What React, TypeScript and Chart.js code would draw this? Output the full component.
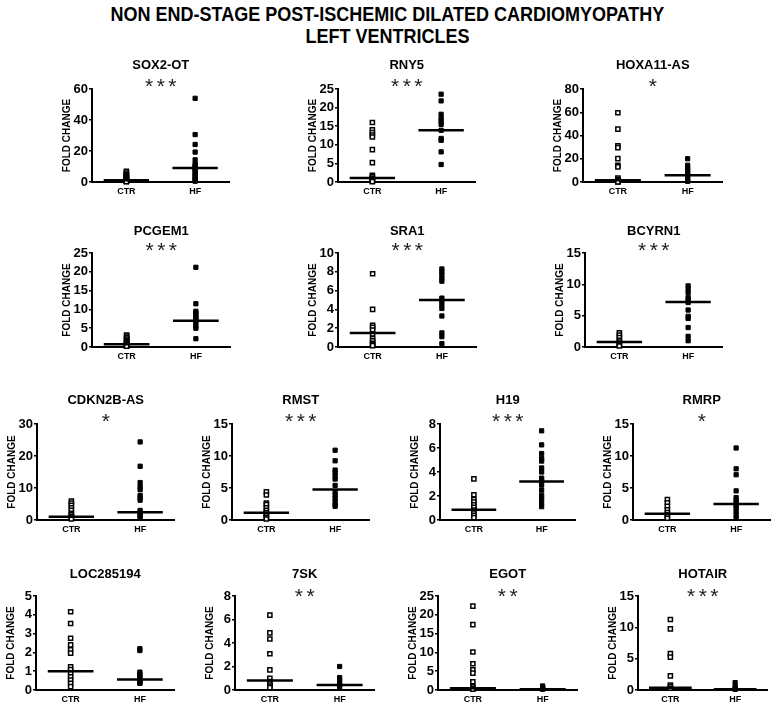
import React, { useEffect, useRef } from 'react';
import { Chart, registerables } from 'chart.js';
Chart.register(...registerables);

const FONT = '"Liberation Sans", Arial, Helvetica, sans-serif';

// ---------- data ----------
const GROUPS = ['CTR', 'HF'];

const sox2otCtr = [6.9, 5.8, 5.0, 4.3, 3.6, 3.0, 2.5, 2.0, 1.6, 1.3, 1.0, 0.8, 0.6, 0.5, 0.3, 0.2];
const sox2otHf = [54, 30.6, 24.2, 19.3, 14.3, 11.5, 10.5, 9.5, 8.5, 7.5, 6.2, 5.0, 4.0, 3.0, 2.0, 1.2, 0.5];
const rny5Ctr = [16.0, 14.0, 13.3, 12.6, 12.1, 8.7, 5.2, 1.8, 1.4, 1.0, 0.7, 0.4, 0.2, 0.1];
const rny5Hf = [23.6, 21.8, 18.2, 17.1, 16.4, 15.5, 13.9, 11.7, 11.2, 8.1, 4.7];
const hoxa11asCtr = [59.6, 45.5, 31.1, 29.6, 20.1, 14.4, 13.0, 3.5, 2.0, 1.2, 0.8, 0.5, 0.3, 0.1];
const hoxa11asHf = [20, 14.4, 12.4, 10.6, 8.6, 6.6, 4.9, 2.9, 1.4, 0.6];
const pcgem1Ctr = [3.2, 2.9, 2.5, 2.1, 1.8, 1.5, 1.2, 1.0, 0.8, 0.7, 0.5, 0.4, 0.3, 0.2];
const pcgem1Hf = [21.2, 11.5, 9.5, 9.0, 8.5, 8.0, 7.5, 7.0, 6.5, 5.5, 5.0, 2.2];
const sra1Ctr = [7.8, 4.0, 2.3, 2.1, 1.8, 1.4, 0.9, 0.65, 0.4, 0.25, 0.15];
const sra1Hf = [8.3, 8.0, 7.7, 7.3, 7.0, 5.2, 4.9, 4.5, 4.1, 3.3, 1.5, 1.1, 0.35];
const bcyrn1Ctr = [2.25, 1.9, 1.5, 1.07, 0.8, 0.54, 0.27, 0.15];
const bcyrn1Hf = [9.75, 9.2, 8.7, 7.9, 7.5, 7.1, 5.9, 4.9, 4.55, 3.1, 1.7, 1.0];
const cdkn2basCtr = [5.9, 5.3, 4.6, 3.8, 3.0, 2.1, 1.6, 1.1, 0.6, 0.3];
const cdkn2basHf = [24.4, 16.8, 11.7, 10.4, 9.5, 7.7, 7.0, 6.2, 3.0, 2.4, 2.1, 1.6, 1.1, 0.6];
const rmstCtr = [4.4, 3.9, 2.65, 2.4, 1.9, 1.5, 1.15, 0.9, 0.65, 0.4, 0.15];
const rmstHf = [10.9, 9.25, 7.8, 7.4, 6.9, 6.4, 5.4, 4.4, 3.9, 3.4, 2.9, 2.4, 2.15];
const h19Ctr = [3.43, 2.1, 1.7, 1.5, 1.26, 1.06, 0.83, 0.57, 0.4, 0.2];
const h19Hf = [7.43, 6.26, 5.54, 5.14, 4.91, 4.34, 4.0, 3.49, 3.26, 2.91, 2.49, 2.06, 1.77, 1.43, 1.11];
const rmrpCtr = [3.2, 2.7, 2.14, 1.6, 1.18, 0.8, 0.54, 0.27];
const rmrpHf = [11.25, 8.0, 7.07, 4.55, 3.5, 3.05, 2.7, 2.25, 1.9, 1.34, 0.8, 0.27];
const loc285194Ctr = [4.16, 3.54, 2.75, 2.4, 2.14, 1.96, 1.23, 1.09, 0.88, 0.7, 0.53, 0.35, 0.18];
const loc285194Hf = [2.2, 2.1, 0.95, 0.85, 0.75, 0.65, 0.55, 0.5, 0.45, 0.4, 0.35];
const sk7Ctr = [6.37, 4.86, 4.34, 3.09, 1.71, 1.0, 0.71, 0.51, 0.34, 0.2];
const sk7Hf = [2.0, 1.06, 0.86, 0.63, 0.43, 0.23];
const egotCtr = [22.3, 17.4, 10.1, 7.0, 5.4, 4.5, 2.2, 0.9, 0.45, 0.2];
const egotHf = [1.07, 0.7, 0.45, 0.2];
const hotairCtr = [11.25, 9.75, 5.8, 5.25, 2.25, 0.8, 0.54, 0.27];
const hotairHf = [1.18, 0.54, 0.27, 0.1];

const GENES = ['SOX2-OT', 'RNY5', 'HOXA11-AS', 'PCGEM1', 'SRA1', 'BCYRN1', 'CDKN2B-AS', 'RMST', 'H19', 'RMRP', 'LOC285194', '7SK', 'EGOT', 'HOTAIR'];
const STARS = ['***', '***', '*', '***', '***', '***', '*', '***', '***', '*', '', '**', '**', '***'];
const CTR_MEDIANS = [1.1, 1.1, 1.4, 0.7, 1.5, 0.8, 1.0, 1.15, 0.86, 0.96, 1.0, 0.8, 0.45, 0.37];
const HF_MEDIANS = [9.0, 13.9, 5.8, 7.0, 5.0, 7.2, 2.4, 4.75, 3.2, 2.5, 0.56, 0.43, 0.2, 0.1];
const Y_MAX = [60, 25, 80, 25, 10, 15, 30, 15, 8, 15, 5, 8, 25, 15];
const Y_STEP = [20, 5, 20, 5, 2, 5, 10, 5, 2, 5, 1, 2, 5, 5];
const CTR_VALUES = [sox2otCtr, rny5Ctr, hoxa11asCtr, pcgem1Ctr, sra1Ctr, bcyrn1Ctr, cdkn2basCtr, rmstCtr, h19Ctr, rmrpCtr, loc285194Ctr, sk7Ctr, egotCtr, hotairCtr];
const HF_VALUES = [sox2otHf, rny5Hf, hoxa11asHf, pcgem1Hf, sra1Hf, bcyrn1Hf, cdkn2basHf, rmstHf, h19Hf, rmrpHf, loc285194Hf, sk7Hf, egotHf, hotairHf];

// ---------- layout (pixel geometry of each panel's plot area) ----------
const LAYOUT = [
  { x: 92, right: 232, top: 89, bottom: 182, tDy: -24, sDy: -2 },
  { x: 338, right: 478, top: 89, bottom: 182, tDy: -24, sDy: -2 },
  { x: 583, right: 725, top: 89, bottom: 182, tDy: -24, sDy: -2 },
  { x: 92, right: 233, top: 253, bottom: 347, tDy: -22, sDy: -2 },
  { x: 338, right: 479, top: 253, bottom: 347, tDy: -22, sDy: -2 },
  { x: 585, right: 725, top: 253, bottom: 347, tDy: -22, sDy: -2 },
  { x: 37, right: 177, top: 424, bottom: 520, tDy: -24, sDy: -2 },
  { x: 232, right: 372, top: 424, bottom: 520, tDy: -24, sDy: -2 },
  { x: 440, right: 578, top: 424, bottom: 520, tDy: -24, sDy: -2 },
  { x: 633, right: 773, top: 424, bottom: 520, tDy: -24, sDy: -2 },
  { x: 36, right: 177, top: 596, bottom: 690, tDy: -22, sDy: 1 },
  { x: 235, right: 377, top: 596, bottom: 690, tDy: -22, sDy: 1 },
  { x: 438, right: 580, top: 596, bottom: 690, tDy: -22, sDy: 1 },
  { x: 638, right: 770, top: 596, bottom: 690, tDy: -22, sDy: 1 },
];

const YW = 31;
const PAD_TOP = 40;
const XH = 20;
const PAD_R = 3;

const panelText = {
  id: 'panelText',
  afterDraw(chart: any, _args: any, opts: any) {
    const { ctx, chartArea } = chart;
    const cx = (chartArea.left + chartArea.right) / 2;
    ctx.save();
    ctx.textAlign = 'center';
    ctx.textBaseline = 'middle';
    ctx.fillStyle = '#000';
    ctx.font = `bold 13px ${FONT}`;
    ctx.fillText(opts.gene, cx, chartArea.top + opts.tDy);
    if (opts.stars) {
      ctx.fillStyle = '#222';
      ctx.font = `21px ${FONT}`;
      const sp = 3.5;
      (ctx as any).letterSpacing = `${sp}px`;
      ctx.fillText(opts.stars, cx + sp / 2, chartArea.top + opts.sDy);
      (ctx as any).letterSpacing = '0px';
    }
    ctx.restore();
  },
};

function Panel({ i }: { i: number }) {
  const ref = useRef<HTMLCanvasElement>(null);
  const l = LAYOUT[i];
  const w = l.right - l.x + YW + PAD_R;
  const h = l.bottom - l.top + PAD_TOP + XH;

  useEffect(() => {
    const ctrMed = CTR_MEDIANS[i];
    const hfMed = HF_MEDIANS[i];
    const chart = new Chart(ref.current as HTMLCanvasElement, {
      type: 'scatter',
      data: {
        datasets: [
          {
            data: [{ x: 0.17, y: ctrMed }, { x: 0.83, y: ctrMed }],
            showLine: true, borderColor: '#000', borderWidth: 2.5, pointRadius: 0, clip: false,
          },
          {
            data: [{ x: 1.17, y: hfMed }, { x: 1.83, y: hfMed }],
            showLine: true, borderColor: '#000', borderWidth: 2.5, pointRadius: 0, clip: false,
          },
          {
            label: GROUPS[0],
            data: CTR_VALUES[i].map((v) => ({ x: 0.5, y: v })),
            pointStyle: 'rect', pointRadius: 2.9, pointBackgroundColor: '#fff',
            pointBorderColor: '#000', pointBorderWidth: 1.5, clip: false,
          },
          {
            label: GROUPS[1],
            data: HF_VALUES[i].map((v) => ({ x: 1.5, y: v })),
            pointStyle: 'rect', pointRadius: 3, pointBackgroundColor: '#000',
            pointBorderColor: '#000', pointBorderWidth: 1, clip: false,
          },
        ] as any,
      },
      options: {
        responsive: false,
        animation: false,
        events: [],
        layout: { padding: { top: PAD_TOP, right: PAD_R, left: 0, bottom: 0 } },
        plugins: {
          legend: { display: false },
          tooltip: { enabled: false },
          panelText: { gene: GENES[i], stars: STARS[i], tDy: l.tDy, sDy: l.sDy },
        } as any,
        scales: {
          x: {
            type: 'linear', min: 0, max: 2,
            afterFit: (s: any) => { s.height = XH; },
            afterBuildTicks: (s: any) => { s.ticks = [{ value: 0.5 }, { value: 1.5 }]; },
            grid: { display: false, drawTicks: false },
            border: { display: true, color: '#000', width: 2 },
            ticks: {
              callback: (v: any) => (v === 0.5 ? GROUPS[0] : v === 1.5 ? GROUPS[1] : ''),
              font: { family: FONT, size: 9, weight: 'bold' }, color: '#000',
              padding: 4, maxRotation: 0, autoSkip: false,
            },
          },
          y: {
            type: 'linear', min: 0, max: Y_MAX[i],
            afterFit: (s: any) => { s.width = YW; },
            grid: { drawOnChartArea: false, drawTicks: true, tickLength: 3, color: '#000', lineWidth: 1.5 },
            border: { display: true, color: '#000', width: 2 },
            ticks: {
              stepSize: Y_STEP[i],
              font: { family: FONT, size: 13, weight: 'bold' }, color: '#000', padding: 1,
            },
            title: {
              display: true, text: 'FOLD CHANGE',
              font: { family: FONT, size: 10, weight: 'bold' }, color: '#000', padding: 0,
            },
          },
        } as any,
      },
      plugins: [panelText as any],
    });
    return () => chart.destroy();
  }, [i]);

  return (
    <canvas
      ref={ref}
      width={w}
      height={h}
      style={{ position: 'absolute', left: l.x - YW, top: l.top - PAD_TOP, width: w, height: h }}
    />
  );
}

export default function App() {
  return (
    <div style={{ position: 'absolute', left: 0, top: 0, width: 775, height: 703, overflow: 'hidden', background: '#fff' }}>
      <div
        style={{
          position: 'absolute', left: 0, top: 3, width: 775, textAlign: 'center',
          fontFamily: FONT, fontWeight: 'bold', fontSize: 20, lineHeight: '22px', color: '#000',
          transform: 'scaleX(0.9)', transformOrigin: '387px 0',
        }}
      >
        NON END-STAGE POST-ISCHEMIC DILATED CARDIOMYOPATHY
        <br />
        LEFT VENTRICLES
      </div>
      {GENES.map((_, i) => (
        <Panel key={i} i={i} />
      ))}
    </div>
  );
}
